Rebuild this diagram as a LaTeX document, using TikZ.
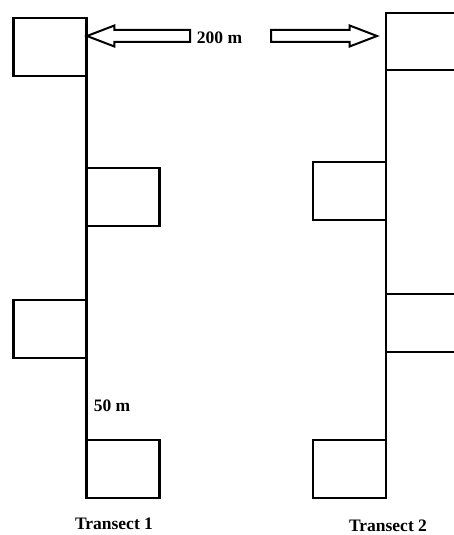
\documentclass[tikz,border=0pt]{standalone}
\usepackage{fontspec}
\setmainfont{Liberation Serif}
\usetikzlibrary{shapes.arrows}

\begin{document}
\begin{tikzpicture}[x=1pt,y=-1pt,line width=2.6pt,font=\fontsize{17.5}{19}\selectfont\bfseries,
 plot/.style={draw,rectangle,minimum width=73pt,minimum height=58pt,inner sep=0pt,outer sep=0pt},
 hollow/.style={single arrow,draw,line width=2pt,inner sep=5pt,outer sep=0pt,
   minimum width=19pt,single arrow head extend=4.5pt,single arrow tip angle=42},
 lab/.style={inner sep=1pt}]
\useasboundingbox (0,0) rectangle (453,535);
% transect 1
\coordinate (t1top) at (86.5,18);
\coordinate (t1bot) at (86.5,498);
\draw (t1top) -- (t1bot);
\node[plot,anchor=north east] (l1) at (86.5,18) {};
\node[plot,anchor=north west] (l2) at (86.5,168) {};
\node[plot,anchor=north east] (l3) at (86.5,300) {};
\node[plot,anchor=south west] (l4) at (86.5,498) {};
% transect 2
\coordinate (t2top) at (386,13);
\coordinate (t2bot) at (386,498);
\draw (t2top) -- (t2bot);
\node[plot,anchor=north west,minimum height=57pt] (r1) at (386,13) {};
\node[plot,anchor=north east] (r2) at (386,162) {};
\node[plot,anchor=north west] (r3) at (386,294) {};
\node[plot,anchor=south east] (r4) at (386,498) {};
% distance between transects
\node[lab] (dist) at (219.5,38) {200 m};
\node[hollow,shape border rotate=180,minimum height=103pt,anchor=tip] (arrL) at (87,36) {};
\node[hollow,minimum height=106pt,anchor=tip] (arrR) at (377,36) {};
\node[lab] (gap) at (112,406) {50 m};
\node[lab] (lab1) at (114,524) {Transect 1};
\node[lab] (lab2) at (388,526) {Transect 2};
\end{tikzpicture}
\end{document}
